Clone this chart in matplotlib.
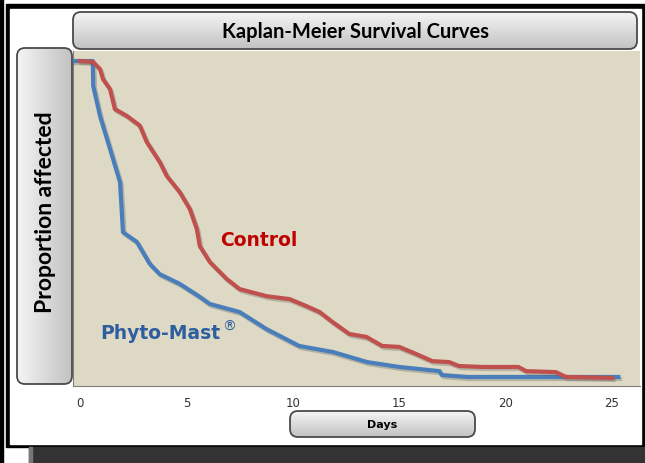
import matplotlib
matplotlib.use("Agg")
import matplotlib.pyplot as plt
import matplotlib.patheffects as pe
from matplotlib.patches import FancyBboxPatch, Rectangle
import numpy as np


# survival data (days, proportion)
control_days = [0, 0.61, 0.94, 1.08, 1.41, 1.64, 2.2, 2.81, 3.14, 3.75, 4.08, 4.69,
                5.16, 5.49, 5.63, 6.1, 6.9, 7.5, 8.77, 9.85, 10.65, 11.26, 11.87,
                12.66, 13.46, 14.2, 15.0, 15.8, 16.56, 17.35, 17.8, 18.9, 20.6,
                20.97, 22.37, 22.84, 25.0]
control_prop = [1.0, 0.997, 0.975, 0.944, 0.913, 0.851, 0.83, 0.80, 0.749, 0.687,
                0.644, 0.594, 0.542, 0.48, 0.427, 0.378, 0.325, 0.294, 0.272, 0.263,
                0.241, 0.223, 0.192, 0.155, 0.146, 0.118, 0.115, 0.093, 0.071, 0.068,
                0.056, 0.053, 0.053, 0.04, 0.037, 0.022, 0.019]

phyto_days = [-0.33, 0.6, 0.62, 0.94, 1.41, 1.88, 2.02, 2.67, 3.28, 3.75, 4.69, 5.63,
              6.1, 7.5, 8.77, 10.3, 11.9, 13.5, 15.0, 16.9, 17.0, 18.2, 25.3]
phyto_prop = [1.0, 1.0, 0.923, 0.83, 0.728, 0.625, 0.47, 0.44, 0.372, 0.34, 0.31, 0.27,
              0.248, 0.223, 0.17, 0.118, 0.099, 0.068, 0.053, 0.040, 0.028, 0.022, 0.022]

xticks = [0, 5, 10, 15, 20, 25]
title = "Kaplan-Meier Survival Curves"
ylabel = "Proportion affected"
xlabel = "Days"

W, H = 645, 464
fig = plt.figure(figsize=(W / 100, H / 100), dpi=100)

# background canvas in pixel coordinates
bg = fig.add_axes([0, 0, 1, 1])
bg.set_xlim(0, W)
bg.set_ylim(H, 0)
bg.axis("off")

bg.add_patch(Rectangle((0, 0), W, H, color="white", zorder=0))
bg.add_patch(Rectangle((0, 0), 3, H, color="black", zorder=1))
bg.add_patch(Rectangle((6, 5), W - 6, 443, color="black", zorder=1))
bg.add_patch(Rectangle((10, 10), 631, 435, color="white", zorder=2))
bg.add_patch(Rectangle((29, 448), W - 29, H - 448, color="#333333", zorder=1))
bg.add_patch(Rectangle((29, 448), 3, H - 448, color="#777777", zorder=2))


def grad_box(x0, y0, x1, y1, vertical=True):
    box = FancyBboxPatch((x0, y0), x1 - x0, y1 - y0,
                         boxstyle="round,pad=0,rounding_size=8",
                         facecolor="none", edgecolor="#4a4a4a", lw=1.3, zorder=5)
    bg.add_patch(box)
    light = np.array([0.96, 0.96, 0.96])
    dark = np.array([0.76, 0.76, 0.76])
    g = np.linspace(0, 1, 100)
    cols = light[None, :] * (1 - g[:, None]) + dark[None, :] * g[:, None]
    if vertical:
        img = np.repeat(cols[:, None, :], 2, axis=1)
    else:
        img = np.repeat(cols[None, :, :], 2, axis=0)
    im = bg.imshow(img, aspect="auto", extent=(x0, x1, y1, y0), zorder=4,
                   interpolation="bilinear")
    im.set_clip_path(box)


grad_box(73, 13, 637, 50)
grad_box(17, 49, 72, 385, vertical=False)
grad_box(290, 412, 475, 438)

bg.text((73 + 637) / 2, 32, title, ha="center", va="center", fontsize=14.5,
        fontweight="bold", family="Lato", zorder=6)
bg.text(46, 212, ylabel, ha="center", va="center", rotation=90, fontsize=16.5,
        fontweight="bold", family="Lato", zorder=6)
bg.text((290 + 475) / 2, 425, xlabel, ha="center", va="center", fontsize=8,
        fontweight="bold", family="DejaVu Sans", zorder=6)

# main plot
ax = fig.add_axes([73 / W, 1 - 387 / H, (640 - 73) / W, (387 - 52) / H])
ax.set_facecolor("#DDD9C4")
ax.set_xlim(-0.33, 26.32)
ax.set_ylim(-0.006, 1.031)

shadow = [pe.SimpleLineShadow(offset=(1.2, -1.5), alpha=0.3, shadow_color="#555555"),
          pe.Normal()]
ax.plot(phyto_days, phyto_prop, color="#4A7EBB", lw=3, solid_joinstyle="round",
        path_effects=shadow, zorder=3)
ax.plot(control_days, control_prop, color="#C0504D", lw=3, solid_joinstyle="round",
        path_effects=shadow, zorder=4)

ax.text(6.58, 0.449, "Control", color="#C00000", fontsize=13.5, fontweight="bold",
        va="center", ha="left")
ax.text(0.95, 0.161, "Phyto-Mast", color="#2E5E9E", fontsize=13.5, fontweight="bold",
        va="center", ha="left")
ax.text(6.67, 0.18, "®", color="#2E5E9E", fontsize=10, va="center", ha="left")

ax.set_xticks(xticks)
ax.set_yticks([])
ax.tick_params(axis="x", length=0, pad=7, labelsize=8.5, labelcolor="#333333")
for s in ["top", "right"]:
    ax.spines[s].set_visible(False)
for s in ["left", "bottom"]:
    ax.spines[s].set_color("#7f7f7f")
    ax.spines[s].set_linewidth(0.8)

fig.savefig("out.png", dpi=100)
